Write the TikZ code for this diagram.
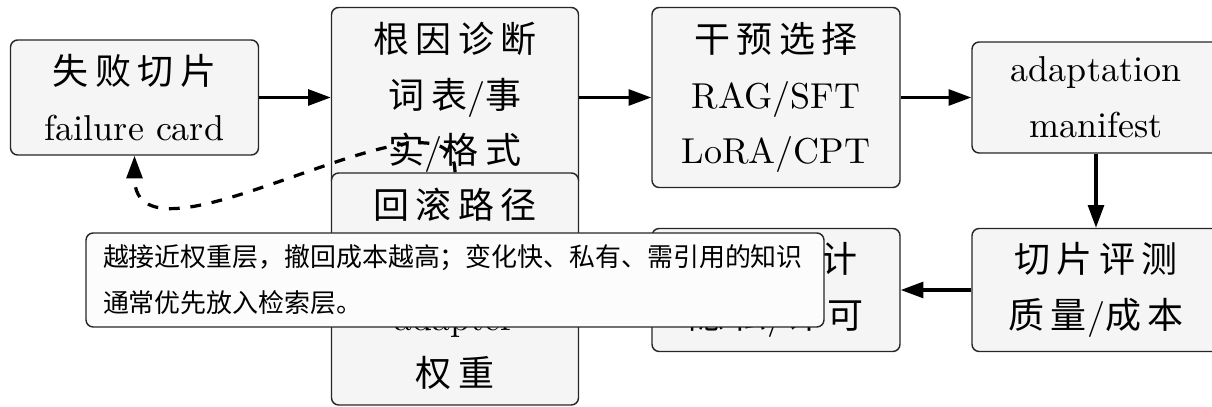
\documentclass[tikz,border=0pt]{standalone}
\usepackage{fontspec}
\newfontfamily\cjk{Noto Sans CJK SC}
\usetikzlibrary{arrows.meta}
\newcommand\zh[1]{{\cjk #1}}
\newcommand\zs{\hspace{0.18em}}
\def\u{0.2778pt}
\tikzset{
  box/.style={draw=black!85, line width=0.4pt, rounded corners=2pt, fill=black!4,
    align=center, inner sep=0pt, font=\fontsize{10}{15.5}\selectfont},
  flow/.style={line width=0.9pt, -{Triangle[length=6.3pt,width=4.4pt]}},
  back/.style={line width=0.9pt, dashed, -{Triangle[length=6.3pt,width=4.4pt]}},
  notebox/.style={draw=black!85, line width=0.4pt, rounded corners=2pt, fill=black!1,
    align=left, inner xsep=17*\u, inner ysep=0pt, text width=704*\u,
    minimum height=94*\u, font=\fontsize{7.2}{12.8}\selectfont}
}
\begin{document}
\begin{tikzpicture}[x=\u, y=-\u]
\useasboundingbox (0,0) rectangle (1212,407);
\node[box, minimum width=248*\u, minimum height=115*\u] (fail) at (134.5,97.5)
  {\zh{失\zs 败\zs 切\zs 片}\\failure card};
\node[box, minimum width=247*\u, minimum height=180*\u] (root) at (455,97.5)
  {\zh{根\zs 因\zs 诊\zs 断}\\\zh{词\zs 表}/\zh{事}\\\zh{实}/\zh{格\zs 式}};
\node[box, minimum width=248*\u, minimum height=180*\u] (choose) at (776,97.5)
  {\zh{干\zs 预\zs 选\zs 择}\\RAG/SFT\\LoRA/CPT};
\node[box, minimum width=248*\u, minimum height=111*\u] (manifest) at (1096,97.5)
  {adaptation\\manifest};
\node[box, minimum width=248*\u, minimum height=123*\u] (eval) at (1096,290)
  {\zh{切\zs 片\zs 评\zs 测}\\\zh{质\zs 量}/\zh{成\zs 本}};
\node[box, minimum width=248*\u, minimum height=123*\u] (audit) at (776,290)
  {\zh{合\zs 规\zs 审\zs 计}\\\zh{隐\zs 私}/\zh{许\zs 可}};
\node[box, minimum width=247*\u, minimum height=232*\u] (rollback) at (455,289)
  {\zh{回\zs 滚\zs 路\zs 径}\\\zh{索\zs 引}/prompt/\\adapter\\\zh{权\zs 重}};
\draw[flow] (fail) -- (root);
\draw[flow] (root) -- (choose);
\draw[flow] (choose) -- (manifest);
\draw[flow] (manifest) -- (eval);
\draw[flow] (eval) -- (audit);
\draw[flow] (audit) -- (rollback);
\draw[back] (rollback.north) to[out=90, in=-90, out looseness=0.84, in looseness=1.04] (fail.south);
\node[notebox] (note) at (455,280)
  {\cjk 越接近权重层，撤回成本越高；变化快、私有、需引用的知识\\通常优先放入检索层。};
\end{tikzpicture}
\end{document}
